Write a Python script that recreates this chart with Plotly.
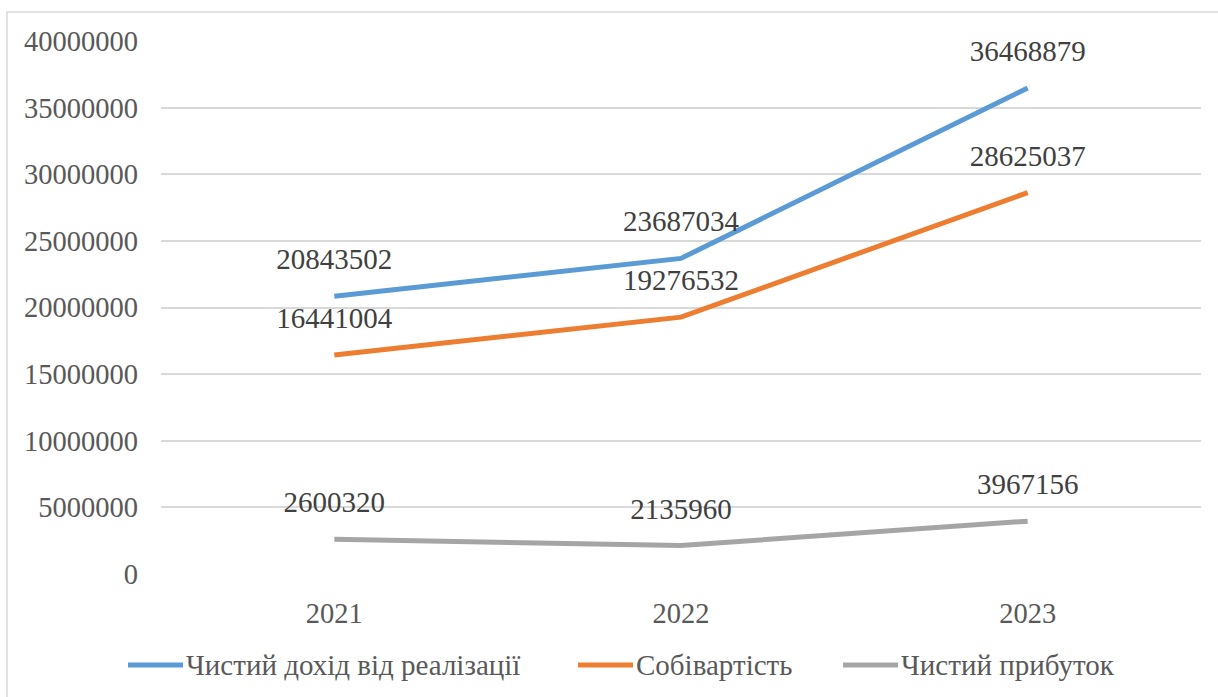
import plotly.graph_objects as go

years = ["2021", "2022", "2023"]
revenue = [20843502, 23687034, 36468879]
cost = [16441004, 19276532, 28625037]
profit = [2600320, 2135960, 3967156]
names = ["Чистий дохід від реалізації", "Собівартість", "Чистий прибуток"]
colors = ["#5B9BD5", "#ED7D31", "#A5A5A5"]

FONT = "Liberation Serif"
W, H = 1218, 697
L, R, T, B = 161, 17, 41, 123
pw, ph = W - L - R, H - T - B


def px2x(px):
    return (px - L) / pw


def py2y(py):
    return (H - B - py) / ph


fig = go.Figure()
series = [revenue, cost, profit]
legend_x = [128, 578, 843]  # left edge of each legend sample (px)
for vals, name, col, lx in zip(series, names, colors, legend_x):
    fig.add_trace(go.Scatter(x=years, y=vals, mode="lines+markers+text", name=name,
                             line=dict(color=col, width=5),
                             marker=dict(size=30, color="rgba(0,0,0,0)"),
                             text=[str(v) for v in vals], textposition="top center",
                             textfont=dict(family=FONT, size=29, color="#404040"),
                             cliponaxis=False, showlegend=False))
    # custom legend entry
    fig.add_shape(type="line", xref="paper", yref="paper",
                  x0=px2x(lx), x1=px2x(lx + 55), y0=py2y(665), y1=py2y(665),
                  line=dict(color=col, width=5))
    fig.add_annotation(xref="paper", yref="paper", x=px2x(lx + 56), y=py2y(665),
                       xanchor="left", yanchor="middle", text=name, showarrow=False,
                       font=dict(family=FONT, size=29, color="#595959"))

fig.add_shape(type="rect", xref="paper", yref="paper",
              x0=px2x(7), x1=px2x(W + 20),
              y0=py2y(H + 20), y1=py2y(12),
              line=dict(color="#D9D9D9", width=1.5), layer="below")

fig.update_layout(
    width=W, height=H,
    margin=dict(l=L, r=R, t=T, b=B),
    paper_bgcolor="white", plot_bgcolor="white",
    font=dict(family=FONT, size=28, color="#595959"),
    xaxis=dict(type="category", showgrid=False, showline=False, zeroline=False,
               ticks="", ticklabelstandoff=19,
               tickfont=dict(family=FONT, size=28.5, color="#595959"),
               range=[-0.5, 2.5]),
    yaxis=dict(range=[0, 40000000], dtick=5000000, tickformat="d",
               showgrid=True, gridcolor="#D9D9D9", gridwidth=1.5,
               zeroline=False, showline=False, ticks="",
               ticklabelstandoff=22,
               tickfont=dict(family=FONT, size=28.5, color="#595959")),
    showlegend=False,
)
fig.write_html("out.html", config={"displayModeBar": False})
with open("out.html", encoding="utf-8") as f:
    html = f.read()
html = html.replace("<head>", "<head><style>html,body{margin:0;padding:0;overflow:hidden;}</style>", 1)
with open("out.html", "w", encoding="utf-8") as f:
    f.write(html)
